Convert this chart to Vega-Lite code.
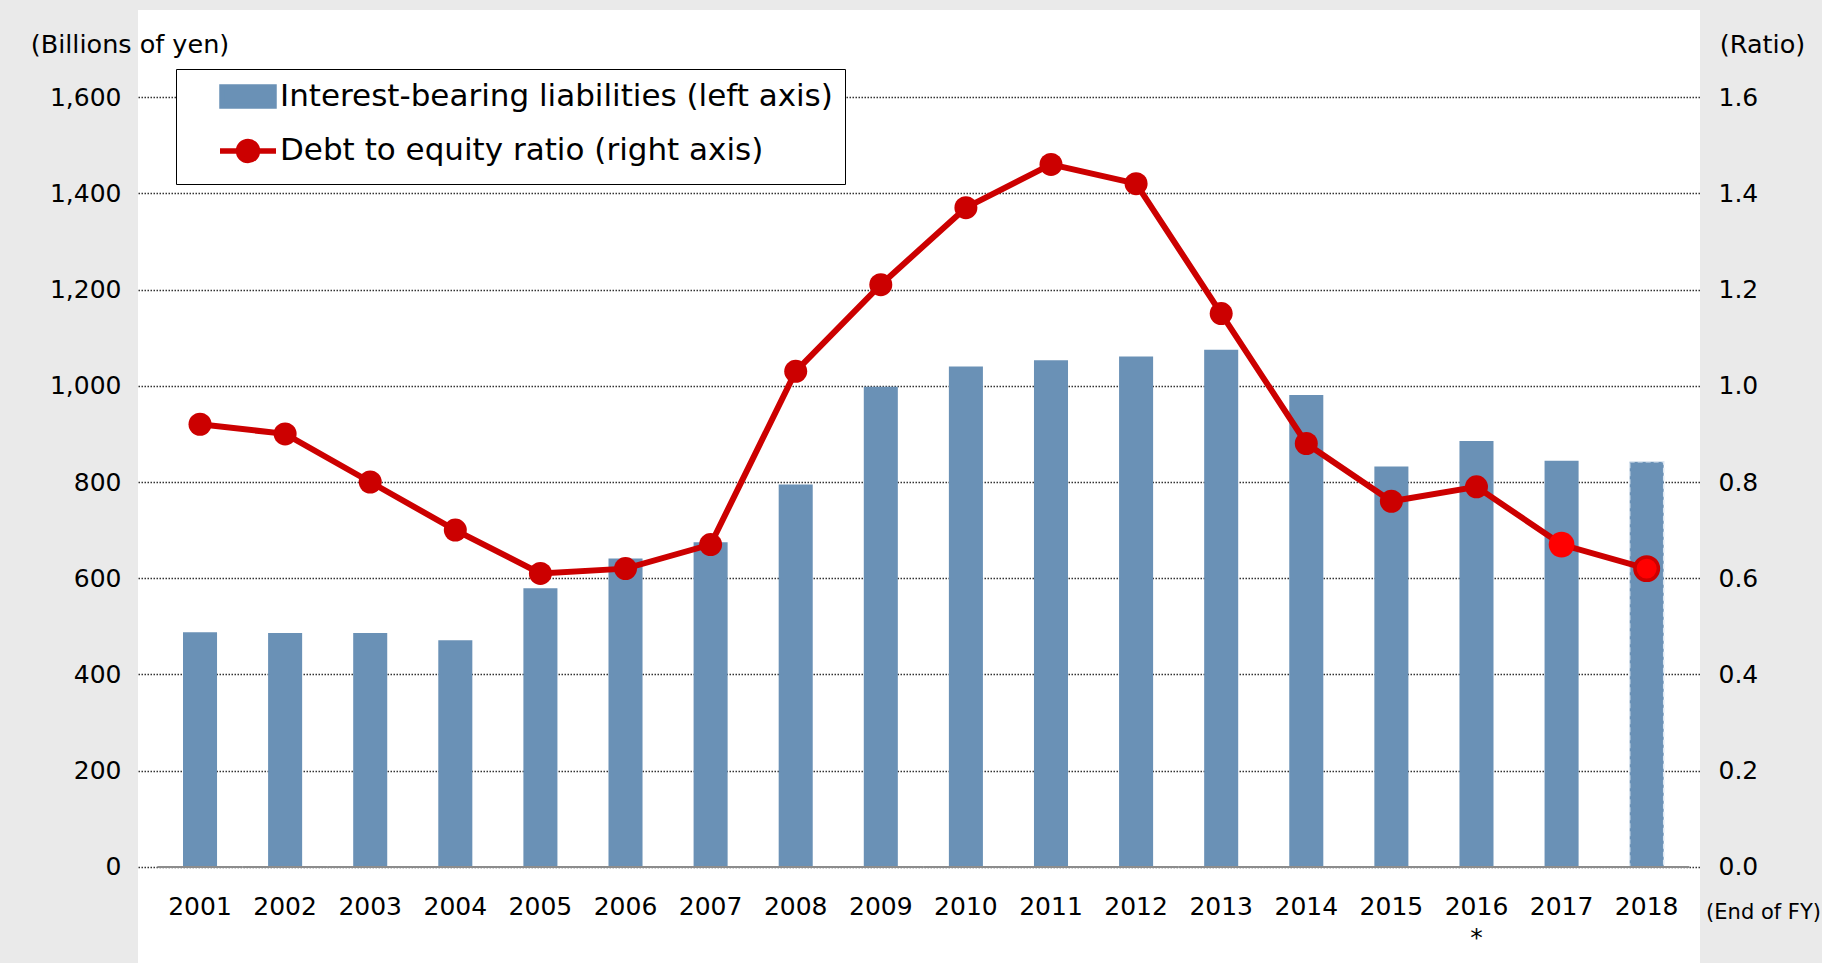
{
  "$schema": "https://vega.github.io/schema/vega-lite/v6.json",
  "width": 1562,
  "height": 953,
  "autosize": {"type": "none"},
  "padding": {"left": 138, "top": 10, "right": 122, "bottom": 0},
  "background": "#eaeaea",
  "view": {"fill": "white", "stroke": null},
  "config": {
    "font": "DejaVu Sans",
    "axis": {"labelFont": "DejaVu Sans", "titleFont": "DejaVu Sans"},
    "legend": {"labelFont": "DejaVu Sans"}
  },
  "data": {
    "values": [
      {"year": "2001", "liabilities": 488, "ratio": 0.92},
      {"year": "2002", "liabilities": 486, "ratio": 0.90},
      {"year": "2003", "liabilities": 486, "ratio": 0.80},
      {"year": "2004", "liabilities": 471, "ratio": 0.70},
      {"year": "2005", "liabilities": 579, "ratio": 0.61},
      {"year": "2006", "liabilities": 641, "ratio": 0.62},
      {"year": "2007", "liabilities": 675, "ratio": 0.67},
      {"year": "2008", "liabilities": 795, "ratio": 1.03},
      {"year": "2009", "liabilities": 998, "ratio": 1.21},
      {"year": "2010", "liabilities": 1040, "ratio": 1.37},
      {"year": "2011", "liabilities": 1053, "ratio": 1.46},
      {"year": "2012", "liabilities": 1061, "ratio": 1.42},
      {"year": "2013", "liabilities": 1075, "ratio": 1.15},
      {"year": "2014", "liabilities": 981, "ratio": 0.88},
      {"year": "2015", "liabilities": 832, "ratio": 0.76},
      {"year": "2016", "liabilities": 885, "ratio": 0.79},
      {"year": "2017", "liabilities": 844, "ratio": 0.67},
      {"year": "2018", "liabilities": 842, "ratio": 0.62}
    ]
  },
  "encoding": {
    "x": {
      "field": "year",
      "type": "ordinal",
      "scale": {"paddingInner": 0.6, "paddingOuter": 0.4777, "align": 0.5535},
      "axis": {
        "title": "(End of FY)",
        "orient": "bottom",
        "offset": -96,
        "domain": false,
        "ticks": false,
        "tickSize": 0,
        "grid": false,
        "labelAngle": 0,
        "labelFontSize": 25,
        "labelColor": "#000000",
        "labelBaseline": "top",
        "labelPadding": 27,
        "labelLineHeight": 31,
        "labelFlush": false,
        "labelOverlap": false,
        "labelExpr": "datum.label == '2016' ? ['2016', '*'] : datum.label",
        "titleFontSize": 21,
        "titleFontWeight": "normal",
        "titleColor": "#000000",
        "titleX": 1625,
        "titleY": 45,
        "titleAlign": "center",
        "titleBaseline": "middle",
        "titleAngle": 0
      }
    }
  },
  "layer": [
    {
      "encoding": {
        "y": {
          "field": "liabilities",
          "type": "quantitative",
          "scale": {"domain": [-199.5, 1780.8], "nice": false, "zero": false},
          "axis": {
            "orient": "left",
            "values": [0, 200, 400, 600, 800, 1000, 1200, 1400, 1600],
            "format": ",.0f",
            "domain": false,
            "ticks": false,
            "tickSize": 0,
            "labelPadding": 17,
            "labelFontSize": 25,
            "labelColor": "#000000",
            "grid": true,
            "gridColor": "#333333",
            "gridDash": [1.5, 1.5],
            "gridWidth": 1.3,
            "title": "(Billions of yen)",
            "titleAngle": 0,
            "titleX": -8.5,
            "titleY": 34.5,
            "titleAlign": "center",
            "titleBaseline": "middle",
            "titleFontSize": 25.5,
            "titleFontWeight": "normal",
            "titleColor": "#000000"
          }
        }
      },
      "layer": [
        {
          "mark": {"type": "bar"},
          "encoding": {
            "y2": {"datum": 0},
            "color": {
              "datum": "Interest-bearing liabilities (left axis)",
              "type": "nominal",
              "scale": {
                "domain": ["Interest-bearing liabilities (left axis)", "Debt to equity ratio (right axis)"],
                "range": ["#6a91b6", "#cc0000"]
              },
              "legend": {
                "orient": "none",
                "legendX": 38,
                "legendY": 59,
                "direction": "vertical",
                "title": null,
                "padding": 12,
                "rowPadding": 13.5,
                "fillColor": "white",
                "strokeColor": "#000000",
                "labelFontSize": 31,
                "labelColor": "#000000",
                "labelLimit": 1000,
                "labelExpr": "datum.label + '\u00a0\u00a0\u00a0'",
                "symbolSize": 400,
                "symbolStrokeWidth": 5,
                "symbolOffset": 44.5,
                "labelOffset": 16.5,
                "encode": {
                  "symbols": {
                    "update": {
                      "shape": {"signal": "datum.value === 'Interest-bearing liabilities (left axis)' ? 'M-2.6,-0.95H2.6V0.95H-2.6Z' : 'M-2.8,0H2.8M0.95,0A0.95,0.95,0,1,1,-0.95,0A0.95,0.95,0,1,1,0.95,0Z'"},
                      "fill": {"signal": "datum.value === 'Interest-bearing liabilities (left axis)' ? '#6a91b6' : '#cc0000'"},
                      "stroke": {"signal": "datum.value === 'Interest-bearing liabilities (left axis)' ? 'transparent' : '#cc0000'"},
                      "strokeWidth": {"value": 5.5},
                      "opacity": {"value": 1}
                    }
                  }
                }
              }
            },
            "stroke": {"condition": {"test": "datum.year === '2018'", "value": "#dde7f1"}, "value": "transparent"},
            "strokeWidth": {"condition": {"test": "datum.year === '2018'", "value": 1.5}, "value": 0},
            "strokeDash": {"condition": {"test": "datum.year === '2018'", "value": [5, 3]}, "value": [1, 0]}
          }
        },
        {
          "mark": {"type": "tick", "orient": "horizontal", "size": 85.3, "thickness": 2, "color": "#8c8c8c", "opacity": 1},
          "encoding": {
            "y": {"datum": 0, "type": "quantitative", "title": "(Billions of yen)"}
          }
        }
      ]
    },
    {
      "encoding": {
        "y": {
          "field": "ratio",
          "type": "quantitative",
          "scale": {"domain": [-0.1995, 1.7808], "nice": false, "zero": false},
          "axis": {
            "orient": "right",
            "values": [0, 0.2, 0.4, 0.6, 0.8, 1.0, 1.2, 1.4, 1.6],
            "format": ".1f",
            "domain": false,
            "ticks": false,
            "tickSize": 0,
            "grid": false,
            "labelPadding": 18,
            "labelFontSize": 25,
            "labelColor": "#000000",
            "labelAlign": "left",
            "title": "(Ratio)",
            "titleAngle": 0,
            "titleX": 62,
            "titleY": 34.5,
            "titleAlign": "center",
            "titleBaseline": "middle",
            "titleFontSize": 25.5,
            "titleFontWeight": "normal",
            "titleColor": "#000000"
          }
        }
      },
      "layer": [
        {
          "mark": {"type": "line", "strokeWidth": 6},
          "encoding": {
            "color": {
              "datum": "Debt to equity ratio (right axis)",
              "type": "nominal",
              "scale": {
                "domain": ["Interest-bearing liabilities (left axis)", "Debt to equity ratio (right axis)"],
                "range": ["#6a91b6", "#cc0000"]
              },
              "legend": {
                "orient": "none",
                "legendX": 38,
                "legendY": 59,
                "direction": "vertical",
                "title": null,
                "padding": 12,
                "rowPadding": 13.5,
                "fillColor": "white",
                "strokeColor": "#000000",
                "labelFontSize": 31,
                "labelColor": "#000000",
                "labelLimit": 1000,
                "labelExpr": "datum.label + '\u00a0\u00a0\u00a0'",
                "symbolSize": 400,
                "symbolStrokeWidth": 5,
                "symbolOffset": 44.5,
                "labelOffset": 16.5,
                "encode": {
                  "symbols": {
                    "update": {
                      "shape": {"signal": "datum.value === 'Interest-bearing liabilities (left axis)' ? 'M-2.6,-0.95H2.6V0.95H-2.6Z' : 'M-2.8,0H2.8M0.95,0A0.95,0.95,0,1,1,-0.95,0A0.95,0.95,0,1,1,0.95,0Z'"},
                      "fill": {"signal": "datum.value === 'Interest-bearing liabilities (left axis)' ? '#6a91b6' : '#cc0000'"},
                      "stroke": {"signal": "datum.value === 'Interest-bearing liabilities (left axis)' ? 'transparent' : '#cc0000'"},
                      "strokeWidth": {"value": 5.5},
                      "opacity": {"value": 1}
                    }
                  }
                }
              }
            }
          }
        },
        {
          "mark": {"type": "point", "filled": true, "opacity": 1},
          "encoding": {
            "size": {
              "condition": [
                {"test": "datum.year === '2017'", "value": 660},
                {"test": "datum.year === '2018'", "value": 552}
              ],
              "value": 529
            },
            "color": {
              "condition": {"test": "datum.year === '2017' || datum.year === '2018'", "value": "#ff0000"},
              "value": "#cc0000"
            },
            "stroke": {"condition": {"test": "datum.year === '2018'", "value": "#cc0000"}, "value": "transparent"},
            "strokeWidth": {"condition": {"test": "datum.year === '2018'", "value": 3.5}, "value": 0}
          }
        }
      ]
    }
  ],
  "resolve": {"scale": {"y": "independent"}}
}
